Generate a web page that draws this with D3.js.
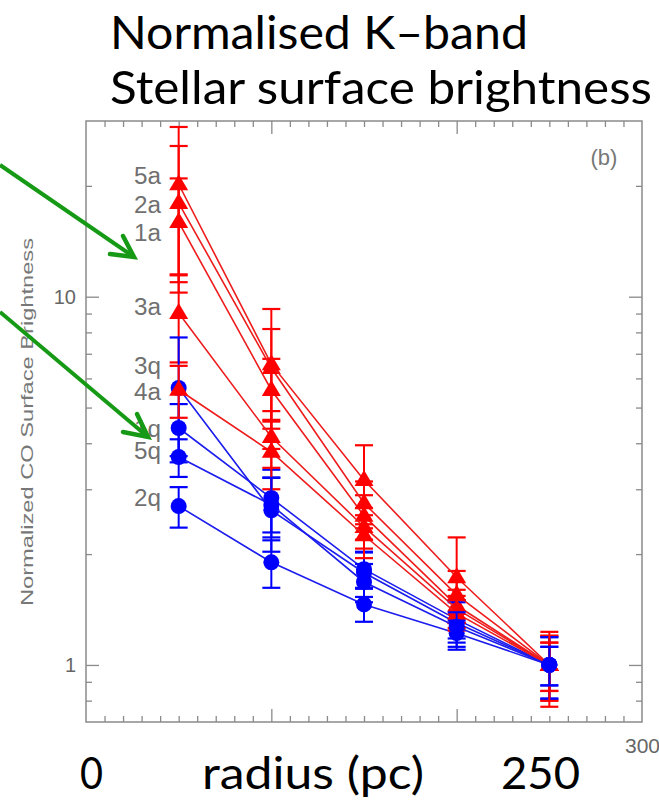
<!DOCTYPE html>
<html><head><meta charset="utf-8">
<script src="https://cdn.jsdelivr.net/npm/d3@7"></script>
<style>body{margin:0;background:#fff}</style>
</head><body>
<svg id="c" width="659" height="802"></svg>
<script>
// ---------- data ----------
const radius = [50, 100, 150, 200, 250];

const val1a = [15.95, 5.58, 2.54, 1.45, 1.0];
const err1a = [5.0, 1.2, 0.35, 0.15, 0.15];
const val2a = [17.96, 6.40, 2.75, 1.55, 1.0];
const err2a = [7.7, 1.77, 0.4, 0.25, 0.2];
const val3a = [9.03, 4.16, 2.37, 1.42, 1.0];
const err3a = [2.4, 0.73, 0.3, 0.12, 0.2];
const val4a = [5.59, 3.79, 2.25, 1.38, 1.0];
const err4a = [0.9, 0.79, 0.3, 0.12, 0.15];
const val5a = [20.2, 6.56, 3.18, 1.73, 1.0];
const err5a = [8.7, 2.7, 0.77, 0.49, 0.23];

const val1q = [4.40, 2.84, 1.82, 1.33, 1.0];
const err1q = [0.71, 0.55, 0.2, 0.15, 0.12];
const val2q = [2.70, 1.90, 1.46, 1.22, 1.0];
const err2q = [0.34, 0.28, 0.15, 0.1, 0.19];
const val3q = [5.65, 2.63, 1.78, 1.30, 1.0];
const err3q = [2.1, 0.6, 0.25, 0.2, 0.19];
const val5q = [3.67, 2.72, 1.68, 1.27, 1.0];
const err5q = [0.43, 0.5, 0.2, 0.12, 0.12];

const seriesOrder = ["1a", "1q", "2a", "2q", "3a", "3q", "4a", "5a", "5q"];
const pointLabels = ["5a", "2a", "1a", "3a", "3q", "4a", "1q", "5q", "2q"];
const pointLabelLevels = [21.3, 17.74, 14.9, 9.38, 6.48, 5.51, 4.37, 3.81, 2.84];

const yMajorTicks = [1, 10];
const yTickLabels = ["1", "10"];
const yMinorTicks = [0.8, 0.9, 2, 3, 4, 5, 6, 7, 8, 9, 20];
const xMajorTicks = [100, 200];
const xMinorTicks = [10,20,30,40,50,60,70,80,90,110,120,130,140,150,160,170,180,190,210,220,230,240,250,260,270,280,290];
const xEndTick = [300];
const xEndLabel = ["300"];

const titleLines = ["Normalised K\u2013band", "Stellar surface brightness"];
const bottomTexts = ["0", "radius (pc)", "250"];
const yTitle = "Normalized CO Surface Brightness";
const panelTag = "(b)";

// ---------- build ----------
const valuesBy = {"1a":val1a,"2a":val2a,"3a":val3a,"4a":val4a,"5a":val5a,"1q":val1q,"2q":val2q,"3q":val3q,"5q":val5q};
const errorsBy = {"1a":err1a,"2a":err2a,"3a":err3a,"4a":err4a,"5a":err5a,"1q":err1q,"2q":err2q,"3q":err3q,"5q":err5q};

const L = 86, R = 642, T = 121, B = 722;
const svg = d3.select("#c");
const x = d3.scaleLinear().domain([0, 300]).range([L, R]);
const y = d3.scaleLog().domain([0.7, 30]).range([B, T]);

const axisColor = "#8a8a8a";
const labelFont = "'Liberation Sans', Arial, sans-serif";
const slideFont = "Lato, 'Open Sans', sans-serif";

// frame
svg.append("rect").attr("x", L).attr("y", T).attr("width", R - L).attr("height", B - T)
  .attr("fill", "none").attr("stroke", axisColor).attr("stroke-width", 1.5);

function styleAxis(g) {
  g.select(".domain").remove();
  g.selectAll(".tick line").attr("stroke", axisColor).attr("stroke-width", 1.3);
  g.selectAll(".tick text").attr("fill", "#666").attr("font-family", labelFont);
}
// x axes
svg.append("g").attr("transform", `translate(0,${B})`)
  .call(d3.axisBottom(x).tickValues(xMajorTicks).tickSize(-13).tickFormat("")).call(styleAxis);
svg.append("g").attr("transform", `translate(0,${B})`)
  .call(d3.axisBottom(x).tickValues(xMinorTicks).tickSize(-6).tickFormat("")).call(styleAxis);
svg.append("g").attr("transform", `translate(0,${T})`)
  .call(d3.axisTop(x).tickValues(xMajorTicks).tickSize(-13).tickFormat("")).call(styleAxis);
svg.append("g").attr("transform", `translate(0,${T})`)
  .call(d3.axisTop(x).tickValues(xMinorTicks).tickSize(-6).tickFormat("")).call(styleAxis);
svg.append("g").attr("transform", `translate(0,${B})`)
  .call(d3.axisBottom(x).tickValues(xEndTick).tickSize(0).tickPadding(16).tickFormat((d, i) => xEndLabel[i]))
  .call(styleAxis).call(g => g.selectAll("text").attr("font-size", 21));
// y axes
svg.append("g").attr("transform", `translate(${L},0)`)
  .call(d3.axisLeft(y).tickValues(yMajorTicks).tickSize(-13).tickPadding(10).tickFormat((d, i) => yTickLabels[i]))
  .call(styleAxis).call(g => g.selectAll("text").attr("font-size", 20));
svg.append("g").attr("transform", `translate(${L},0)`)
  .call(d3.axisLeft(y).tickValues(yMinorTicks).tickSize(-6).tickFormat("")).call(styleAxis);
svg.append("g").attr("transform", `translate(${R},0)`)
  .call(d3.axisRight(y).tickValues(yMajorTicks).tickSize(-13).tickFormat("")).call(styleAxis);
svg.append("g").attr("transform", `translate(${R},0)`)
  .call(d3.axisRight(y).tickValues(yMinorTicks).tickSize(-6).tickFormat("")).call(styleAxis);

// y title
svg.append("text").attr("transform", `translate(33,${(238 + 606) / 2}) rotate(-90)`)
  .attr("text-anchor", "middle").attr("font-family", labelFont).attr("font-size", 16)
  .attr("fill", "#777").attr("textLength", 368).attr("lengthAdjust", "spacingAndGlyphs").text(yTitle);

// panel tag
svg.append("text").attr("x", 604).attr("y", 165).attr("text-anchor", "middle")
  .attr("font-family", labelFont).attr("font-size", 22).attr("fill", "#777").text(panelTag);

// series
const line = d3.line().x(d => x(d.r)).y(d => y(d.v));
const capW = 9;
seriesOrder.forEach(name => {
  const isRed = name.endsWith("a");
  const col = isRed ? "#ff0000" : "#0000ff";
  const pts = radius.map((r, i) => ({ r, v: valuesBy[name][i], e: errorsBy[name][i] }));
  const g = svg.append("g");
  g.append("path").datum(pts).attr("d", line).attr("fill", "none")
    .attr("stroke", isRed ? "#ee1c1c" : "#1c1cee").attr("stroke-width", 1.6);
  const eb = g.selectAll(".eb").data(pts).enter().append("g");
  eb.append("line").attr("x1", d => x(d.r)).attr("x2", d => x(d.r))
    .attr("y1", d => y(d.v + d.e)).attr("y2", d => y(d.v - d.e))
    .attr("stroke", col).attr("stroke-width", 2);
  eb.append("line").attr("x1", d => x(d.r) - capW).attr("x2", d => x(d.r) + capW)
    .attr("y1", d => y(d.v + d.e)).attr("y2", d => y(d.v + d.e))
    .attr("stroke", col).attr("stroke-width", 2.2);
  eb.append("line").attr("x1", d => x(d.r) - capW).attr("x2", d => x(d.r) + capW)
    .attr("y1", d => y(d.v - d.e)).attr("y2", d => y(d.v - d.e))
    .attr("stroke", col).attr("stroke-width", 2.2);
  if (isRed) {
    g.selectAll(".m").data(pts).enter().append("path")
      .attr("d", d => { const cx = x(d.r), cy = y(d.v);
        return `M${cx},${cy - 10}L${cx + 9.5},${cy + 6}L${cx - 9.5},${cy + 6}Z`; })
      .attr("fill", col);
  } else {
    g.selectAll(".m").data(pts).enter().append("circle")
      .attr("cx", d => x(d.r)).attr("cy", d => y(d.v)).attr("r", 8).attr("fill", col);
  }
});

// point labels
svg.selectAll(".pl").data(pointLabels).enter().append("text")
  .attr("x", 161).attr("y", (d, i) => y(pointLabelLevels[i]))
  .attr("dy", "0.36em").attr("text-anchor", "end")
  .attr("font-family", labelFont).attr("font-size", 23).attr("fill", "#707070")
  .attr("textLength", 27).attr("lengthAdjust", "spacingAndGlyphs").text(d => d);

// green arrows (slide annotation, pixel layout)
const arrows = [
  { from: [0, 165], tip: [134, 257], b1: [110, 254], b2: [123, 236] },
  { from: [0, 312], tip: [148, 437], b1: [123, 432], b2: [137, 414] }
];
arrows.forEach(a => {
  svg.append("line").attr("x1", a.from[0]).attr("y1", a.from[1]).attr("x2", a.tip[0]).attr("y2", a.tip[1])
    .attr("stroke", "#169a16").attr("stroke-width", 4);
  svg.append("path").attr("d", `M${a.b1[0]},${a.b1[1]}L${a.tip[0]},${a.tip[1]}L${a.b2[0]},${a.b2[1]}`)
    .attr("fill", "none").attr("stroke", "#169a16").attr("stroke-width", 4.5)
    .attr("stroke-linecap", "round").attr("stroke-linejoin", "miter");
});

// slide texts
const titleLayout = [{ x: 110, y: 49, w: 418 }, { x: 110, y: 104, w: 542 }];
titleLines.forEach((t, i) => {
  svg.append("text").attr("x", titleLayout[i].x).attr("y", titleLayout[i].y)
    .attr("font-family", slideFont).attr("font-size", 47).attr("fill", "#000")
    .attr("textLength", titleLayout[i].w).attr("lengthAdjust", "spacingAndGlyphs").text(t);
});
const bottomLayout = [{ x: 80, w: 23 }, { x: 202, w: 222 }, { x: 501, w: 79 }];
bottomTexts.forEach((t, i) => {
  svg.append("text").attr("x", bottomLayout[i].x).attr("y", 789)
    .attr("font-family", slideFont).attr("font-size", 45).attr("fill", "#000")
    .attr("textLength", bottomLayout[i].w).attr("lengthAdjust", "spacingAndGlyphs").text(t);
});
</script>
</body></html>
